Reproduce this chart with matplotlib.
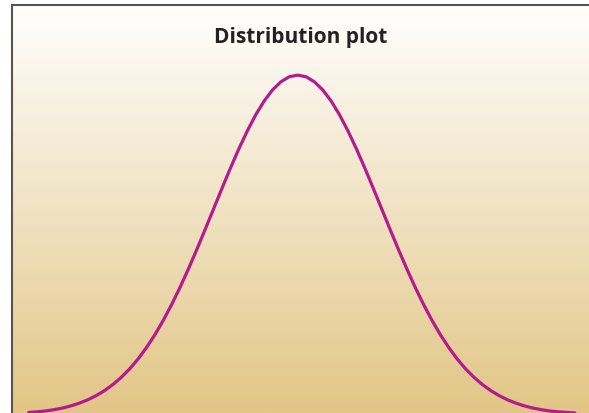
import matplotlib
matplotlib.use("Agg")
import matplotlib.pyplot as plt
import numpy as np
from matplotlib.colors import LinearSegmentedColormap

# values (x in std units, density)
x_vals = [-3.2, -3.1, -3.0, -2.9, -2.8, -2.7, -2.6, -2.5, -2.4, -2.3, -2.2, -2.1,
          -2.0, -1.9, -1.8, -1.7, -1.6, -1.5, -1.4, -1.3, -1.2, -1.1, -1.0, -0.9,
          -0.8, -0.7, -0.6, -0.5, -0.4, -0.3, -0.2, -0.1, 0.0, 0.1, 0.2, 0.3, 0.4,
          0.5, 0.6, 0.7, 0.8, 0.9, 1.0, 1.1, 1.2, 1.3, 1.4, 1.5, 1.6, 1.7, 1.8, 1.9,
          2.0, 2.1, 2.2, 2.3, 2.4, 2.5, 2.6, 2.7, 2.8, 2.9, 3.0, 3.1, 3.2, 3.3]
density = [0.0030, 0.0037, 0.0047, 0.0062, 0.0081, 0.0106, 0.0138, 0.0177, 0.0226,
           0.0285, 0.0356, 0.0441, 0.0540, 0.0656, 0.0790, 0.0940, 0.1109, 0.1295,
           0.1497, 0.1714, 0.1942, 0.2179, 0.2420, 0.2661, 0.2897, 0.3123, 0.3332,
           0.3521, 0.3683, 0.3814, 0.3910, 0.3970, 0.3989, 0.3970, 0.3910, 0.3814,
           0.3683, 0.3521, 0.3332, 0.3123, 0.2897, 0.2661, 0.2420, 0.2179, 0.1942,
           0.1714, 0.1497, 0.1295, 0.1109, 0.0940, 0.0790, 0.0656, 0.0540, 0.0441,
           0.0356, 0.0285, 0.0226, 0.0177, 0.0138, 0.0106, 0.0081, 0.0062, 0.0047,
           0.0037, 0.0030, 0.0024]
title = "Distribution plot"

fig = plt.figure(figsize=(5.89, 4.14), dpi=100)
fig.patch.set_facecolor("white")
ax = fig.add_axes([12 / 589, 0, 578 / 589, 408.5 / 414])

xmin, xmax = -3.40, 3.48
ymin, ymax = 0.0023, 0.4818
ax.set_xlim(xmin, xmax)
ax.set_ylim(ymin, ymax)

# vertical gradient background
cmap = LinearSegmentedColormap.from_list("bg", ["#ffffff", "#e2c686"])
grad = np.linspace(0, 1, 256).reshape(-1, 1)
ax.imshow(grad, cmap=cmap, aspect="auto", extent=[xmin, xmax, ymin, ymax],
          origin="upper", zorder=0)

ax.plot(x_vals, density, color="#b31b8f", lw=2.3, solid_capstyle="round", zorder=2)

ax.text(0.5, 0.922, title, transform=ax.transAxes, ha="center", va="center",
        fontsize=15, fontweight="bold", family=["Open Sans", "DejaVu Sans"],
        color="#222222")

for side in ["right", "bottom"]:
    ax.spines[side].set_visible(False)
for side in ["left", "top"]:
    ax.spines[side].set_color("#555555")
    ax.spines[side].set_linewidth(1.5)
ax.set_xticks([])
ax.set_yticks([])

fig.savefig("out.png", dpi=100)
